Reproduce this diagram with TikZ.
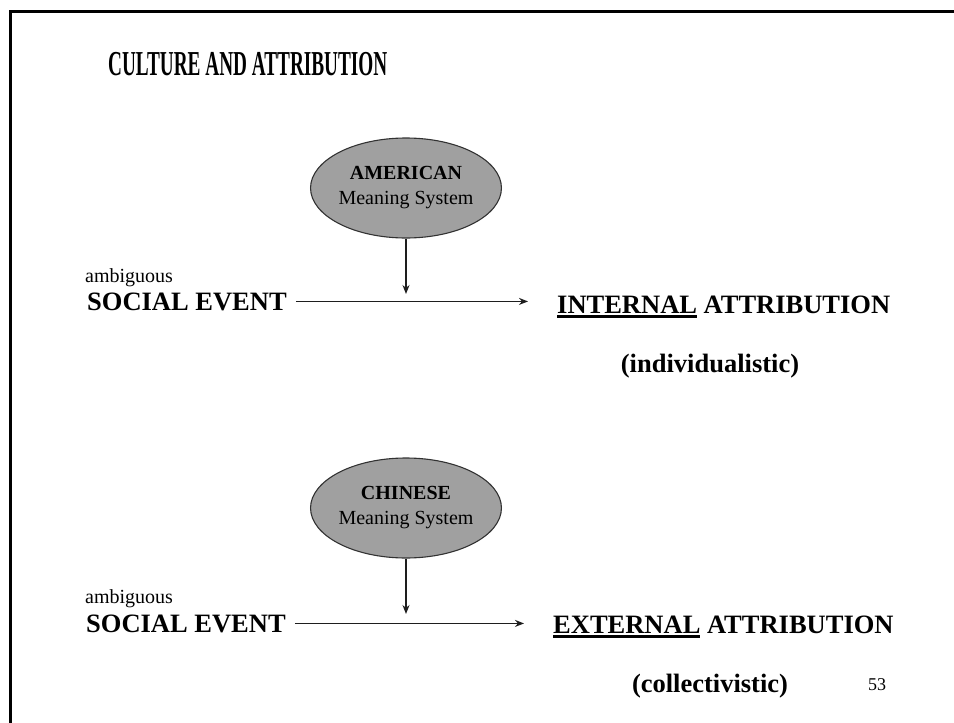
\documentclass[tikz,border=0pt]{standalone}
\usepackage{fontspec}
\usepackage{graphicx}
\setmainfont{Liberation Serif}
\newfontfamily\tms{Liberation Serif}
\newcommand\myuline[1]{\setbox0\hbox{#1}\rlap{\rule[-4.5pt]{\wd0}{2.2pt}}\box0\relax}
\usetikzlibrary{shapes.geometric,arrows.meta}
\begin{document}
\begin{tikzpicture}[x=1pt,y=-1pt,
  lbl/.style={inner sep=0pt, anchor=base west},
  bigb/.style={lbl, font=\tms\fontsize{26.5}{30}\selectfont\bfseries},
  small/.style={lbl, font=\tms\fontsize{20}{24}\selectfont},
  meaning/.style={ellipse, draw={rgb,255:red,50;green,50;blue,50}, line width=1.1pt,
    fill={rgb,255:red,160;green,160;blue,160}, minimum width=182pt, minimum height=100pt,
    inner sep=0pt, align=center, font=\tms\fontsize{20}{25}\selectfont},
  arr/.style={draw={rgb,255:red,30;green,30;blue,30}, line width=1.3pt, -{Stealth[length=9pt,width=7pt]}},
  frame/.style={line width=3pt}
]
\useasboundingbox (0,0) rectangle (954,723);
\draw[frame] (10,723) -- (10,11.5) -- (954,11.5);

\node[lbl, font=\tms\fontsize{35}{40}\selectfont\bfseries] (title) at (108,75) {\scalebox{0.55}[1]{CULTURE AND ATTRIBUTION}};

% block 1
\node[meaning] (am) at (406,188) {\textbf{AMERICAN}\\Meaning System};
\node[small] (amb1) at (85,282) {ambiguous};
\node[bigb] (se1) at (87,310) {SOCIAL EVENT};
\node[bigb] (ia1) at (557,313) {\myuline{INTERNAL} ATTRIBUTION};
\node[bigb, anchor=base] (ind) at (710,372) {(individualistic)};
\coordinate (j1) at (406,294);
\draw[arr] (am.south) -- (j1);
\draw[arr] ([xshift=9pt]se1.east) -- ([xshift=-29pt]ia1.west |- se1.east);

% block 2
\node[meaning] (ch) at (406,508) {\textbf{CHINESE}\\Meaning System};
\node[small] (amb2) at (85,603) {ambiguous};
\node[bigb] (se2) at (86,632) {SOCIAL EVENT};
\node[bigb] (ea2) at (553,633) {\myuline{EXTERNAL} ATTRIBUTION};
\node[bigb, anchor=base] (col) at (710,692) {(collectivistic)};
\coordinate (j2) at (406,614);
\draw[arr] (ch.south) -- (j2);
\draw[arr] ([xshift=9pt]se2.east) -- ([xshift=-29pt]ea2.west |- se2.east);

\node[lbl, font=\tms\fontsize{18}{22}\selectfont] (pg) at (868,690) {53};
\end{tikzpicture}
\end{document}
